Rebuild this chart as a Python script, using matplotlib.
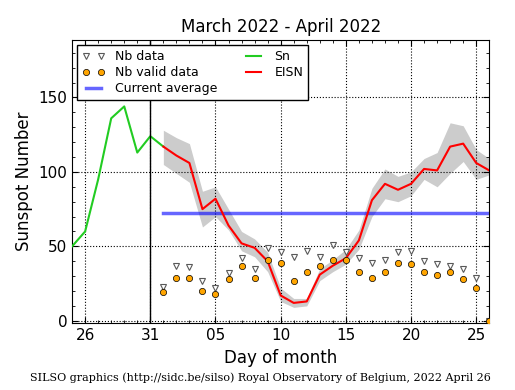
import matplotlib
matplotlib.use("Agg")
import matplotlib.pyplot as plt
import numpy as np

# x positions are day offsets from 2022-03-26
sn_days = [-1, 0, 1, 2, 3, 4, 5, 6]
sn_values = [50, 60, 95, 136, 144, 113, 124, 117]

days = list(range(6, 32))
eisn = [117, 111, 106, 75, 82, 64, 52, 49, 40, 17, 12, 13, 31, 37, 42, 54,
        81, 92, 88, 92, 102, 101, 117, 119, 106, 101]
eisn_hi = [128, 123, 119, 87, 90, 75, 60, 55, 46, 22, 15, 15, 35, 41, 48, 61,
           89, 102, 97, 100, 109, 113, 133, 131, 115, 109]
eisn_lo = [105, 99, 93, 63, 70, 61, 47, 43, 33, 13, 9, 10, 27, 33, 38, 48,
           70, 82, 80, 84, 95, 90, 99, 107, 95, 98]
nb_data = [23, 37, 36, 27, 22, 32, 42, 35, 49, 46, 43, 47, 43, 51, 46, 42,
           39, 41, 46, 47, 40, 38, 37, 35, 29, 0]
nb_valid = [19, 29, 29, 20, 18, 28, 37, 29, 41, 39, 27, 33, 37, 41, 41, 33,
            29, 33, 39, 38, 33, 31, 33, 28, 22, 0]
current_average = 72.5
month_split = 5  # Mar 31

tick_pos = [0, 5, 10, 15, 20, 25, 30]
tick_labels = ["26", "31", "05", "10", "15", "20", "25"]

fig = plt.figure(figsize=(5.15, 3.9), dpi=100)
ax = fig.add_axes([0.140, 0.171, 0.810, 0.726])

# error band and lines
ax.fill_between(days, eisn_lo, eisn_hi, color="0.8", lw=0, zorder=1)
avg_line, = ax.plot([days[0], days[-1]], [current_average, current_average],
                    color="#0000ff", alpha=0.6, lw=2.5, zorder=2, label="Current average")
sn_line, = ax.plot(sn_days, sn_values, color="#22cc22", lw=1.5, zorder=3, label="Sn")
eisn_line, = ax.plot(days, eisn, color="red", lw=1.5, zorder=4, label="EISN")
ax.axvline(month_split, color="k", lw=1, zorder=5)

# station counts
nb_pts, = ax.plot(days, nb_data, ls="none", marker="v", ms=4, mfc="white",
                  mec="0.35", mew=0.8, zorder=6, label="Nb data")
valid_pts, = ax.plot(days, nb_valid, ls="none", marker="o", ms=4.5, mfc="orange",
                     mec="k", mew=0.5, zorder=7, label="Nb valid data")

ax.set_xlim(-1, 31)
ax.set_ylim(-1.7, 188.5)
ax.set_xticks(tick_pos)
ax.set_xticklabels(tick_labels)
ax.set_xticks(range(-1, 32), minor=True)
ax.set_yticks([0, 50, 100, 150])
ax.set_yticks(range(0, 190, 10), minor=True)
ax.tick_params(which="both", direction="in", top=True, right=True, labelsize=11)
ax.tick_params(which="major", length=4)
ax.tick_params(which="minor", length=2)
ax.grid(True, which="major", linestyle=":", color="k", lw=0.8)

ax.set_title("March 2022 - April 2022", fontsize=12)
ax.set_xlabel("Day of month", fontsize=12)
ax.set_ylabel("Sunspot Number", fontsize=12)

leg = ax.legend(handles=[nb_pts, valid_pts, avg_line, sn_line, eisn_line],
                loc="upper left", ncol=2, fontsize=9, numpoints=2,
                fancybox=False, framealpha=1, edgecolor="k",
                borderaxespad=0.4, columnspacing=2.0, handlelength=1.8,
                handletextpad=0.8, labelspacing=0.25)
leg.get_frame().set_linewidth(1)

fig.text(0.505, 0.022, "SILSO graphics (http://sidc.be/silso) Royal Observatory of Belgium, 2022 April 26",
         family="DejaVu Serif", fontsize=8, ha="center")

plt.savefig("out.png", dpi=100)
